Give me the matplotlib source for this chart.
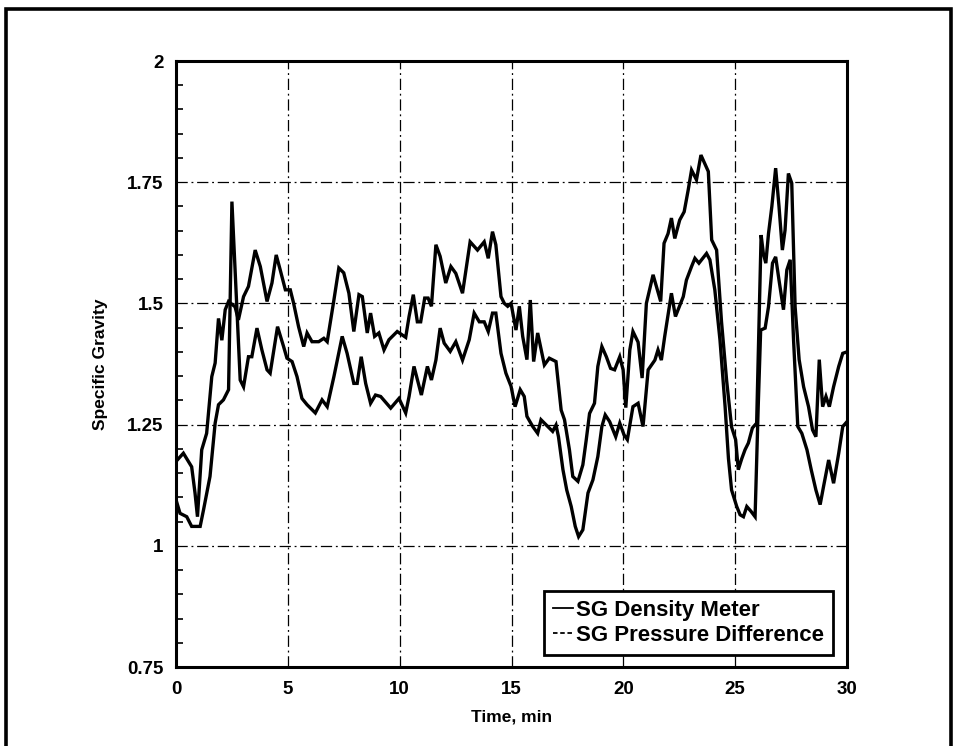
import matplotlib
matplotlib.use("Agg")
import matplotlib.pyplot as plt
from matplotlib.lines import Line2D
from matplotlib.patches import Rectangle
from matplotlib.ticker import MultipleLocator

# ---- data ----
time_density = [0.00, 0.33, 0.70, 0.85, 0.96, 1.15, 1.37, 1.60, 1.75, 1.90, 2.05, 2.20, 2.35, 2.64, 2.79,
                3.02, 3.24, 3.54, 3.77, 4.07, 4.29, 4.48, 4.66, 4.89, 5.11, 5.26, 5.48, 5.71, 5.86, 6.08,
                6.38, 6.61, 6.76, 7.06, 7.28, 7.50, 7.73, 7.95, 8.18, 8.33, 8.55, 8.70, 8.88, 9.07, 9.30,
                9.52, 9.89, 10.27, 10.42, 10.61, 10.79, 10.94, 11.12, 11.27, 11.42, 11.62, 11.81, 12.06,
                12.29, 12.51, 12.81, 13.15, 13.48, 13.78, 13.96, 14.15, 14.30, 14.53, 14.68, 14.83, 14.98,
                15.20, 15.35, 15.50, 15.69, 15.84, 15.99, 16.17, 16.47, 16.69, 16.99, 17.22, 17.37, 17.59,
                17.74, 17.97, 18.19, 18.34, 18.49, 18.71, 18.86, 19.04, 19.24, 19.43, 19.61, 19.84, 19.99,
                20.11, 20.29, 20.43, 20.66, 20.84, 21.03, 21.33, 21.67, 21.82, 22.00, 22.15, 22.30, 22.52,
                22.72, 22.90, 23.05, 23.27, 23.47, 23.80, 23.95, 24.17, 24.39, 24.62, 24.84, 25.02, 25.14,
                25.29, 25.44, 25.59, 25.77, 25.96, 26.16, 26.26, 26.37, 26.49, 26.64, 26.81, 26.96, 27.11,
                27.23, 27.38, 27.53, 27.68, 27.86, 28.06, 28.28, 28.46, 28.61, 28.76, 28.91, 29.06, 29.21,
                29.40, 29.63, 29.81, 30.00]
sg_density = [1.174, 1.191, 1.163, 1.109, 1.060, 1.198, 1.232, 1.349, 1.377, 1.469, 1.424, 1.487, 1.504, 1.493, 1.466,
              1.514, 1.535, 1.610, 1.576, 1.504, 1.542, 1.600, 1.569, 1.528, 1.528, 1.500, 1.452, 1.411, 1.439, 1.421,
              1.421, 1.428, 1.421, 1.507, 1.573, 1.563, 1.521, 1.442, 1.518, 1.514, 1.439, 1.480, 1.432, 1.439, 1.404,
              1.425, 1.442, 1.430, 1.473, 1.518, 1.462, 1.462, 1.511, 1.511, 1.494, 1.621, 1.597, 1.542,
              1.576, 1.562, 1.521, 1.627, 1.610, 1.627, 1.593, 1.648, 1.621, 1.514, 1.500, 1.494, 1.500,
              1.445, 1.494, 1.432, 1.384, 1.507, 1.380, 1.439, 1.373, 1.387, 1.380, 1.280, 1.260, 1.198,
              1.143, 1.133, 1.167, 1.218, 1.273, 1.294, 1.370, 1.411, 1.390, 1.366, 1.363, 1.390, 1.363,
              1.285, 1.404, 1.442, 1.420, 1.346, 1.500, 1.559, 1.504, 1.624, 1.644, 1.676, 1.634, 1.672,
              1.689, 1.734, 1.775, 1.755, 1.806, 1.772, 1.631, 1.610, 1.462, 1.340, 1.245, 1.219, 1.157,
              1.179, 1.198, 1.212, 1.243, 1.253, 1.641, 1.603, 1.583, 1.644, 1.700, 1.779, 1.700, 1.610,
              1.651, 1.768, 1.748, 1.493, 1.384, 1.328, 1.287, 1.239, 1.225, 1.384, 1.287, 1.308, 1.287,
              1.328, 1.370, 1.397, 1.400]

time_pressure = [0.00, 0.18, 0.48, 0.70, 1.08, 1.23, 1.52, 1.75, 1.90, 2.12, 2.35, 2.50, 2.87, 3.02, 3.24,
                 3.39, 3.62, 3.84, 4.07, 4.21, 4.54, 4.81, 4.96, 5.19, 5.41, 5.63, 5.86, 6.23, 6.53, 6.76,
                 7.06, 7.43, 7.65, 7.95, 8.10, 8.28, 8.48, 8.70, 8.92, 9.15, 9.60, 9.97, 10.27, 10.42, 10.64,
                 10.97, 11.24, 11.42, 11.62, 11.81, 11.99, 12.26, 12.51, 12.81, 13.11, 13.33, 13.56, 13.78,
                 13.96, 14.15, 14.30, 14.53, 14.75, 14.98, 15.16, 15.39, 15.57, 15.69, 15.95, 16.17, 16.32,
                 16.62, 16.84, 16.99, 17.10, 17.30, 17.47, 17.67, 17.85, 18.00, 18.19, 18.42, 18.64, 18.86,
                 19.04, 19.19, 19.39, 19.66, 19.84, 20.03, 20.18, 20.43, 20.66, 20.88, 21.11, 21.41, 21.55,
                 21.70, 21.85, 22.15, 22.33, 22.68, 22.82, 23.05, 23.20, 23.38, 23.72, 23.87, 24.09, 24.32,
                 24.55, 24.70, 24.84, 25.07, 25.22, 25.37, 25.52, 25.71, 25.89, 26.03, 26.14, 26.34, 26.49,
                 26.67, 26.81, 26.96, 27.16, 27.31, 27.46, 27.61, 27.80, 27.98, 28.21, 28.40, 28.61, 28.80,
                 28.95, 29.18, 29.40, 29.63, 29.81, 30.00]
sg_pressure = [1.095, 1.067, 1.060, 1.040, 1.040, 1.074, 1.143, 1.253, 1.291, 1.301, 1.322, 1.710, 1.342, 1.328, 1.390,
               1.390, 1.449, 1.404, 1.363, 1.356, 1.452, 1.411, 1.387, 1.380, 1.349, 1.304, 1.291, 1.274, 1.301, 1.287,
               1.349, 1.432, 1.397, 1.335, 1.335, 1.390, 1.335, 1.294, 1.311, 1.308, 1.284, 1.304, 1.274, 1.308, 1.370,
               1.311, 1.370, 1.342, 1.383, 1.449, 1.418, 1.401, 1.421, 1.383, 1.425, 1.480, 1.462, 1.462,
               1.442, 1.480, 1.480, 1.397, 1.356, 1.329, 1.287, 1.322, 1.308, 1.267, 1.246, 1.232, 1.260,
               1.246, 1.236, 1.249, 1.225, 1.157, 1.115, 1.081, 1.040, 1.019, 1.033, 1.109, 1.136, 1.184,
               1.246, 1.270, 1.256, 1.225, 1.253, 1.229, 1.219, 1.287, 1.294, 1.246, 1.363, 1.383, 1.404,
               1.383, 1.432, 1.521, 1.473, 1.514, 1.548, 1.576, 1.593, 1.583, 1.603, 1.590, 1.528, 1.425,
               1.287, 1.180, 1.115, 1.081, 1.064, 1.060, 1.081, 1.071, 1.060, 1.287, 1.445, 1.449, 1.493,
               1.583, 1.596, 1.548, 1.487, 1.569, 1.590, 1.425, 1.246, 1.232, 1.198, 1.157, 1.115, 1.085,
               1.122, 1.177, 1.129, 1.191, 1.246, 1.256]

y_ticks = [0.75, 1.0, 1.25, 1.5, 1.75, 2.0]
y_tick_labels = ["0.75", "1", "1.25", "1.5", "1.75", "2"]
x_ticks = [0, 5, 10, 15, 20, 25, 30]
series_labels = ["SG Density Meter", "SG Pressure Difference"]

plt.rcParams['font.family'] = ['Liberation Sans', 'DejaVu Sans']
plt.rcParams['font.weight'] = 'bold'

fig = plt.figure(figsize=(9.57, 7.46), dpi=100)
ax = fig.add_axes([176/957, 1 - 667/746, (847-176)/957, (667-61)/746])

ax.plot(time_density, sg_density, color='black', lw=2.4, solid_joinstyle='miter', zorder=3)
ax.plot(time_pressure, sg_pressure, color='black', lw=2.4, solid_joinstyle='miter', zorder=3)

ax.set_xlim(0, 30)
ax.set_ylim(0.75, 2.0)
ax.set_xticks(x_ticks)
ax.set_xticklabels([str(v) for v in x_ticks])
ax.set_yticks(y_ticks)
ax.set_yticklabels(y_tick_labels)
ax.yaxis.set_minor_locator(MultipleLocator(0.05))
ax.tick_params(axis='y', which='major', direction='in', length=0, pad=9, labelsize=13.5)
ax.tick_params(axis='y', which='minor', direction='in', length=5, width=1.2)
ax.tick_params(axis='x', which='major', direction='in', length=0, pad=10, labelsize=13.5)
for lab in ax.get_xticklabels() + ax.get_yticklabels():
    lab.set_fontweight('bold')

ax.grid(True, which='major', color='black', lw=0.9, linestyle=(0, (9, 3, 1.5, 3)))
for s in ax.spines.values():
    s.set_linewidth(2.2)

ax.set_xlabel("Time, min", fontsize=12.5, fontweight='bold', labelpad=8)
ax.set_ylabel("Specific Gravity", fontsize=12.5, fontweight='bold', labelpad=14)

handles = [Line2D([], [], color='black', lw=1.3),
           Line2D([], [], color='black', lw=1.3, linestyle=(0, (2.5, 1.5)))]
leg = ax.legend(handles, series_labels, loc='lower right', bbox_to_anchor=(0.979, 0.02),
                frameon=True, fancybox=False, edgecolor='black', framealpha=1,
                handlelength=0.9, handletextpad=0.15, borderpad=0.4, labelspacing=0.2,
                borderaxespad=0, prop={'size': 16, 'weight': 'bold'})
leg.get_frame().set_linewidth(2.0)
for txt in leg.get_texts():
    txt.set_fontweight('bold')

# outer frame of the figure
fig.add_artist(Rectangle((6/957, -0.02), (951-6)/957, 1.02 - 9/746, transform=fig.transFigure,
                         fill=False, edgecolor='black', lw=2.6))

fig.savefig("out.png", dpi=100)
